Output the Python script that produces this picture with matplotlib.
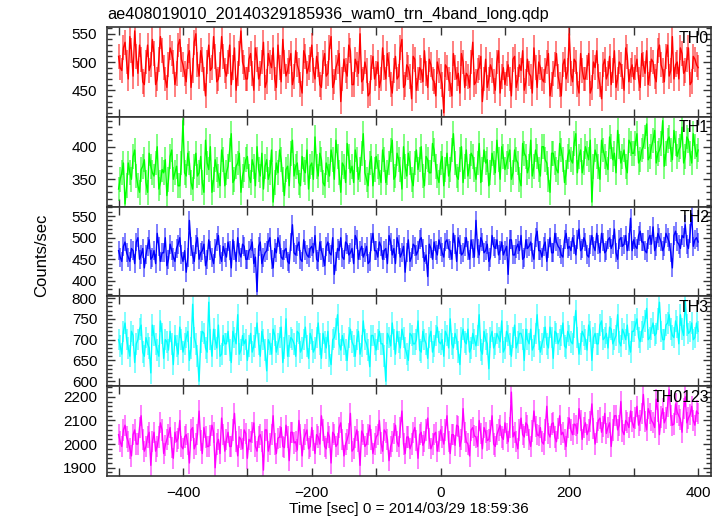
import numpy as np
import matplotlib
matplotlib.use("Agg")
import matplotlib.pyplot as plt
from matplotlib.ticker import MultipleLocator

plt.rcParams["font.family"] = ["Liberation Sans", "DejaVu Sans"]

TITLE = "ae408019010_20140329185936_wam0_trn_4band_long.qdp"
XLABEL = "Time [sec] 0 = 2014/03/29 18:59:36"
YLABEL = "Counts/sec"

# values every 5 s (-500 ... 400) and in between (-497.5 ... 397.5)
time_a = list(range(-500, 401, 5))
time_b = [t + 2.5 for t in range(-500, 400, 5)]

th0_a = [
    510, 485, 535, 470, 520, 555, 480, 505, 460, 530, 495, 515, 470, 545, 490, 455, 525, 500, 480, 540,
    495, 465, 520, 485, 550, 475, 505, 440, 530, 490, 510, 470, 545, 485, 500, 460, 525, 480, 555, 490,
    470, 515, 450, 505, 480, 535, 465, 500, 525, 455, 490, 540, 475, 500, 460, 520, 485, 445, 510, 490,
    530, 470, 495, 455, 515, 480, 545, 465, 500, 430, 505, 475, 520, 460, 495, 550, 470, 485, 445, 510,
    480, 455, 525, 470, 495, 445, 510, 475, 540, 460, 490, 435, 505, 470, 485, 520, 455, 495, 465, 500,
    475, 410, 490, 460, 515, 470, 445, 500, 480, 455, 535, 465, 490, 430, 505, 470, 485, 450, 520, 475,
    460, 495, 440, 510, 470, 485, 450, 505, 475, 525, 455, 490, 465, 500, 440, 480, 515, 460, 495, 470,
    550, 465, 500, 445, 485, 470, 515, 455, 490, 475, 435, 505, 480, 460, 520, 470, 495, 450, 510, 485,
    470, 505, 455, 495, 520, 480, 500, 465, 530, 485, 510, 475, 545, 495, 470, 515, 485, 525, 465, 505,
    490,
]
th0_b = [
    490, 525, 500, 545, 475, 510, 530, 465, 500, 485, 540, 460, 505, 520, 470, 495, 515, 460, 530, 505,
    480, 510, 455, 535, 495, 520, 470, 500, 485, 545, 465, 495, 510, 475, 530, 490, 450, 515, 500, 470,
    505, 480, 525, 470, 500, 455, 515, 490, 470, 530, 465, 500, 485, 515, 475, 495, 460, 520, 480, 505,
    485, 510, 460, 500, 475, 525, 455, 490, 515, 470, 485, 530, 460, 505, 480, 465, 500, 440, 490, 470,
    500, 470, 490, 515, 460, 485, 470, 525, 455, 495, 475, 510, 450, 490, 465, 480, 505, 470, 440, 485,
    460, 495, 470, 440, 490, 480, 515, 455, 475, 500, 460, 485, 510, 470, 455, 495, 465, 500, 445, 490,
    480, 470, 505, 455, 495, 520, 465, 480, 445, 490, 500, 470, 485, 515, 460, 495, 475, 440, 505, 485,
    480, 505, 460, 515, 470, 490, 445, 500, 520, 460, 495, 470, 510, 485, 455, 500, 475, 525, 465, 495,
    490, 470, 515, 480, 460, 505, 475, 520, 495, 465, 530, 485, 470, 500, 525, 480, 505, 460, 510, 495,
]
th1_a = [
    335, 360, 312, 375, 350, 395, 340, 365, 380, 330, 370, 355, 400, 345, 360, 325, 385, 350, 370, 340,
    440, 355, 375, 335, 390, 360, 345, 410, 365, 330, 380, 355, 395, 340, 370, 420, 350, 375, 330, 365,
    385, 345, 370, 400, 355, 335, 380, 360, 315, 375, 395, 350, 365, 340, 410, 370, 345, 385, 360, 335,
    375, 415, 355, 380, 340, 365, 395, 350, 385, 330, 370, 405, 360, 345, 380, 365, 420, 350, 375, 340,
    385, 360, 395, 345, 375, 410, 355, 380, 335, 370, 390, 350, 375, 365, 400, 340, 380, 360, 395, 355,
    375, 340, 390, 365, 420, 355, 380, 345, 395, 370, 385, 350, 405, 365, 375, 340, 390, 360, 380, 400,
    365, 385, 350, 395, 375, 340, 390, 360, 410, 370, 385, 355, 400, 375, 330, 390, 365, 405, 380, 360,
    395, 375, 420, 385, 360, 400, 380, 315, 395, 370, 410, 385, 365, 400, 390, 425, 375, 395, 360, 405,
    390, 420, 380, 400, 435, 385, 410, 375, 395, 440, 390, 415, 380, 405, 395, 430, 385, 410, 375, 400,
    395,
]
th1_b = [
    350, 375, 340, 360, 385, 355, 330, 370, 345, 390, 360, 375, 335, 365, 380, 350, 395, 360, 340, 375,
    360, 390, 345, 370, 355, 385, 330, 375, 400, 350, 365, 340, 380, 360, 395, 345, 370, 390, 355, 380,
    355, 380, 340, 365, 390, 370, 350, 395, 345, 360, 380, 325, 370, 390, 355, 375, 340, 365, 395, 370,
    350, 370, 390, 345, 375, 355, 380, 410, 360, 375, 345, 385, 370, 395, 350, 390, 360, 340, 385, 365,
    370, 345, 380, 360, 395, 350, 390, 365, 400, 355, 375, 340, 395, 380, 355, 385, 360, 405, 370, 345,
    385, 365, 355, 395, 375, 350, 400, 370, 355, 390, 365, 375, 345, 395, 380, 360, 375, 410, 350, 385,
    375, 395, 360, 380, 350, 405, 385, 370, 355, 395, 365, 400, 380, 350, 390, 375, 360, 395, 345, 385,
    380, 405, 360, 395, 375, 390, 410, 370, 385, 350, 395, 375, 415, 380, 360, 400, 385, 370, 410, 390,
    405, 375, 395, 415, 380, 400, 425, 390, 405, 370, 410, 395, 425, 385, 400, 375, 415, 390, 420, 385,
]
th2_a = [
    470, 445, 490, 455, 475, 440, 500, 460, 430, 480, 450, 470, 510, 445, 465, 435, 485, 455, 475, 500,
    445, 420, 540, 460, 485, 450, 470, 435, 495, 455, 475, 505, 445, 465, 490, 430, 470, 500, 455, 480,
    450, 475, 440, 375, 490, 455, 470, 500, 430, 465, 485, 450, 475, 440, 530, 460, 490, 445, 470, 455,
    480, 505, 445, 470, 435, 490, 460, 415, 475, 500, 450, 485, 465, 440, 495, 470, 455, 480, 445, 510,
    470, 490, 450, 475, 505, 460, 440, 485, 465, 420, 495, 455, 480, 470, 500, 445, 410, 475, 490, 460,
    480, 455, 495, 470, 510, 445, 485, 465, 500, 450, 475, 540, 460, 490, 470, 445, 505, 475, 460, 490,
    470, 415, 495, 460, 485, 505, 455, 475, 490, 450, 515, 470, 480, 445, 500, 465, 490, 475, 455, 510,
    480, 500, 460, 520, 475, 490, 455, 505, 470, 485, 510, 465, 495, 475, 520, 450, 500, 485, 470, 545,
    495, 475, 515, 490, 465, 505, 525, 480, 500, 470, 510, 490, 430, 515, 485, 505, 530, 475, 555, 495,
    490,
]
th2_b = [
    455, 480, 465, 445, 470, 490, 450, 475, 460, 495, 455, 440, 480, 465, 500, 450, 470, 445, 485, 460,
    470, 455, 480, 445, 500, 465, 485, 450, 470, 440, 490, 460, 480, 455, 470, 495, 445, 465, 485, 450,
    470, 490, 455, 480, 440, 465, 490, 450, 475, 500, 455, 470, 445, 490, 465, 480, 450, 495, 460, 475,
    465, 450, 490, 455, 480, 465, 500, 445, 470, 455, 490, 460, 475, 505, 450, 480, 465, 440, 490, 470,
    455, 480, 470, 440, 490, 475, 500, 455, 480, 465, 445, 485, 460, 495, 475, 460, 485, 450, 470, 495,
    465, 490, 475, 450, 485, 500, 460, 480, 470, 495, 455, 475, 500, 465, 485, 455, 480, 495, 470, 460,
    480, 495, 460, 475, 470, 450, 495, 480, 465, 500, 470, 455, 490, 475, 465, 510, 480, 460, 495, 475,
    470, 485, 495, 470, 500, 460, 485, 480, 510, 465, 490, 470, 500, 485, 465, 495, 480, 505, 490, 470,
    480, 505, 490, 470, 495, 485, 470, 510, 490, 480, 500, 465, 505, 490, 475, 500, 485, 510, 480, 500,
]
th3_a = [
    700, 665, 740, 680, 720, 645, 700, 735, 660, 690, 620, 710, 675, 745, 655, 695, 720, 640, 685, 730,
    670, 705, 650, 785, 690, 600, 720, 680, 790, 660, 700, 735, 665, 690, 720, 645, 705, 760, 675, 690,
    650, 715, 685, 740, 660, 700, 625, 690, 725, 670, 705, 645, 750, 685, 700, 660, 715, 680, 730, 655,
    700, 680, 740, 655, 695, 720, 640, 705, 760, 675, 690, 650, 725, 685, 700, 665, 745, 690, 635, 710,
    675, 720, 690, 600, 705, 740, 665, 695, 725, 680, 650, 710, 690, 745, 670, 700, 655, 720, 685, 730,
    690, 660, 710, 750, 680, 700, 640, 725, 690, 670, 715, 685, 760, 665, 700, 630, 720, 690, 705, 745,
    680, 710, 660, 735, 695, 715, 650, 700, 725, 685, 760, 670, 705, 690, 730, 655, 715, 700, 740, 680,
    710, 690, 770, 665, 720, 700, 735, 650, 715, 690, 745, 705, 680, 725, 700, 760, 685, 715, 735, 670,
    720, 750, 695, 730, 775, 705, 740, 715, 790, 700, 735, 760, 710, 745, 690, 725, 795, 715, 740, 705,
    720,
]
th3_b = [
    685, 720, 700, 660, 710, 690, 725, 670, 705, 680, 735, 690, 660, 715, 700, 675, 690, 710, 665, 700,
    690, 720, 680, 705, 660, 695, 715, 670, 700, 725, 680, 660, 710, 690, 675, 720, 690, 665, 710, 700,
    685, 670, 705, 690, 720, 675, 700, 665, 710, 690, 730, 680, 660, 705, 690, 720, 670, 700, 685, 715,
    670, 705, 690, 715, 680, 660, 700, 725, 690, 710, 675, 705, 695, 660, 720, 685, 700, 675, 710, 690,
    700, 690, 660, 715, 685, 700, 720, 680, 705, 665, 715, 690, 700, 675, 720, 690, 705, 670, 710, 695,
    700, 720, 680, 690, 715, 670, 705, 695, 725, 680, 700, 710, 675, 720, 690, 705, 680, 715, 695, 670,
    720, 690, 705, 680, 715, 700, 725, 690, 675, 715, 700, 690, 730, 680, 705, 720, 690, 710, 685, 720,
    695, 730, 705, 690, 710, 675, 720, 705, 690, 735, 700, 715, 730, 690, 710, 695, 725, 700, 690, 720,
    735, 705, 720, 745, 700, 725, 710, 750, 720, 700, 740, 725, 705, 730, 760, 710, 735, 720, 700, 740,
]
th0123_a = [
    2040, 1990, 2080, 2010, 1950, 2060, 2000, 2120, 1970, 2030, 1910, 2050, 1990, 2090, 1960, 2020, 2070, 1940, 2010, 2100,
    1980, 2040, 1920, 2070, 2000, 2140, 1960, 2030, 1990, 2080, 1900, 2020, 2110, 1970, 2050, 1990, 2130, 1950, 2020, 2060,
    1940, 2010, 2090, 1970, 2040, 1890, 2060, 2000, 2120, 1960, 2030, 1990, 2080, 1930, 2050, 2010, 2100, 1950, 2040, 1980,
    2070, 1960, 2030, 2120, 1990, 2050, 1920, 2040, 2000, 2090, 1950, 2020, 2130, 1980, 2060, 1910, 2040, 2000, 2080, 1960,
    2030, 2100, 1970, 2050, 1930, 2010, 2080, 1990, 2140, 1960, 2030, 2000, 2070, 1940, 2050, 2010, 2110, 1980, 2040, 1970,
    2060, 2000, 2120, 1960, 2040, 2080, 1990, 2150, 2010, 1950, 2070, 2030, 2100, 1980, 2050, 2020, 2120, 1990, 2060, 2030,
    2090, 2010, 2220, 2050, 1980, 2110, 2030, 2080, 1990, 2140, 2040, 2070, 2000, 2160, 2030, 2090, 2010, 2120, 2050, 1990,
    2110, 2040, 2080, 2150, 2020, 2090, 2060, 2170, 2000, 2100, 2050, 2130, 2070, 1990, 2120, 2060, 2180, 2040, 2090, 2140,
    2070, 2160, 2100, 2210, 2060, 2130, 2090, 2190, 2040, 2150, 2110, 2230, 2080, 2170, 2120, 2050, 2200, 2110, 2160, 2080,
    2130,
]
th0123_b = [
    2010, 2060, 2030, 1980, 2040, 2000, 2070, 2020, 1990, 2050, 2010, 1970, 2030, 2060, 1995, 2040, 1985, 2050, 2025, 1990,
    2030, 2000, 2060, 1980, 2040, 2015, 2070, 1990, 2035, 2050, 2000, 1960, 2040, 2020, 1990, 2060, 2010, 2030, 1980, 2045,
    2020, 2050, 1990, 2030, 2010, 2060, 1970, 2040, 2000, 2025, 2070, 1985, 2030, 2050, 2005, 1975, 2040, 2020, 2060, 1990,
    2015, 2040, 2000, 2060, 1980, 2030, 2050, 1990, 2070, 2020, 2000, 2045, 1970, 2030, 2010, 2055, 1990, 2040, 2020, 2000,
    2040, 2005, 2060, 2020, 1990, 2045, 2010, 2070, 2000, 2030, 1980, 2050, 2015, 2040, 1995, 2060, 2025, 2000, 2050, 2010,
    2030, 2060, 2010, 2040, 1995, 2075, 2020, 2050, 2000, 2060, 2035, 1990, 2045, 2070, 2015, 2055, 2000, 2040, 2080, 2020,
    2045, 2070, 2030, 2010, 2060, 2040, 2090, 2020, 2055, 2075, 2035, 2010, 2060, 2045, 2085, 2030, 2065, 2040, 2020, 2070,
    2060, 2085, 2045, 2100, 2070, 2040, 2095, 2065, 2050, 2110, 2075, 2045, 2090, 2060, 2120, 2080, 2055, 2100, 2070, 2095,
    2110, 2080, 2130, 2095, 2150, 2100, 2070, 2140, 2115, 2090, 2160, 2120, 2085, 2135, 2105, 2150, 2090, 2125, 2100, 2140,
]

series = [(th0_a, th0_b), (th1_a, th1_b), (th2_a, th2_b), (th3_a, th3_b), (th0123_a, th0123_b)]
labels = ["TH0", "TH1", "TH2", "TH3", "TH0123"]
errors = [22, 19, 22, 26, 45]   # typical 1-sigma bar half-length per band
colors = ["#ff0000", "#00ff00", "#0000ff", "#00ffff", "#ff00ff"]
ylims = [(403, 562), (308, 446), (364, 572), (588, 804), (1865, 2245)]
yticks = [[450, 500, 550], [350, 400], [400, 450, 500, 550],
          [600, 650, 700, 750, 800], [1900, 2000, 2100, 2200]]
yminor = [10, 10, 10, 10, 20]

fig = plt.figure(figsize=(7.24, 5.16), dpi=100)
left, right, top, bottom = 107 / 724, 711 / 724, 1 - 27 / 516, 1 - 476 / 516
h = (top - bottom) / 5

t_all = np.array(time_a + time_b)
order = np.argsort(t_all)
t = t_all[order]

axes = []
for k in range(5):
    ax = fig.add_axes([left, top - (k + 1) * h, right - left, h])
    a, b = series[k]
    y = np.array(a + b)[order]
    ax.errorbar(t, y, yerr=errors[k], fmt="none", ecolor=colors[k], alpha=0.5,
                elinewidth=1.4, capsize=0)
    ax.plot(t, y, color=colors[k], lw=1.0)

    ax.set_xlim(-518, 420)
    ax.set_ylim(*ylims[k])
    ax.xaxis.set_major_locator(MultipleLocator(200))
    ax.xaxis.set_minor_locator(MultipleLocator(100))
    ax.set_yticks(yticks[k])
    ax.yaxis.set_minor_locator(MultipleLocator(yminor[k]))
    ax.tick_params(which="both", direction="in", top=True, right=True,
                   labelsize=11, width=1.0, color="#333333", pad=7)
    ax.tick_params(which="major", length=6)
    ax.tick_params(which="minor", length=3.5)
    ax.xaxis.set_tick_params(which="minor", length=6)
    for s in ax.spines.values():
        s.set_linewidth(1.2)
        s.set_color("#333333")
    if k < 4:
        ax.tick_params(labelbottom=False)
    ax.text(0.997, 0.96, labels[k], transform=ax.transAxes, ha="right", va="top",
            fontsize=11.5)
    axes.append(ax)

axes[4].set_xlabel(XLABEL, fontsize=11, labelpad=2)
fig.text(42 / 724, 1 - 255 / 516, YLABEL, rotation=90, ha="center", va="center",
         fontsize=12)
fig.text(left, 1 - 14 / 516, TITLE, ha="left", va="center", fontsize=11.7)

fig.savefig("out.png", dpi=100)
